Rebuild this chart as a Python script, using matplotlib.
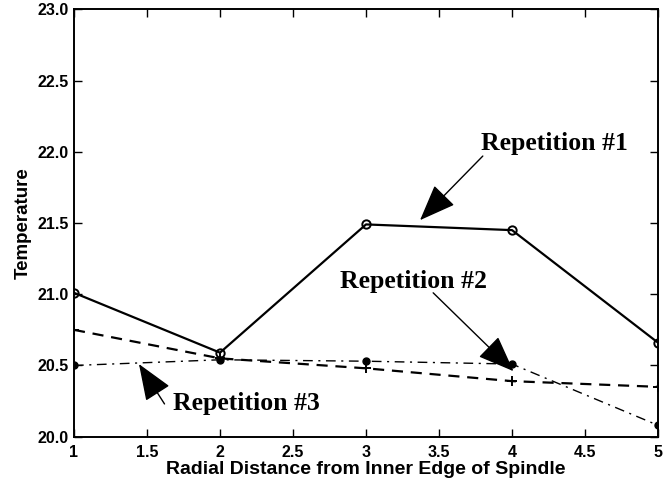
import matplotlib
matplotlib.use("Agg")
import matplotlib.pyplot as plt

# --- data ---
distance = [1, 2, 3, 4, 5]
rep1 = [21.01, 20.59, 21.49, 21.45, 20.66]
rep2 = [20.75, 20.55, 20.48, 20.39, 20.35]
rep3 = [20.50, 20.54, 20.53, 20.51, 20.08]

x_ticks = [1, 1.5, 2, 2.5, 3, 3.5, 4, 4.5, 5]
x_tick_labels = ["1", "1.5", "2", "2.5", "3", "3.5", "4", "4.5", "5"]
y_ticks = [20.0, 20.5, 21.0, 21.5, 22.0, 22.5, 23.0]
y_tick_labels = ["20.0", "20.5", "21.0", "21.5", "22.0", "22.5", "23.0"]

sans = ["Liberation Sans", "DejaVu Sans"]
serif = ["Liberation Serif", "DejaVu Serif"]

fig = plt.figure(figsize=(6.69, 4.84), dpi=100)
ax = fig.add_axes([0.1106, 0.0977, 0.8730, 0.8831])

ax.plot(distance, rep1, "k-", lw=1.6, marker="o", ms=6, mfc="none", mew=1.4)
ax.plot(distance, rep2, "k--", lw=1.6, marker="+", ms=7, mew=1.4, dashes=(5, 3.5))
ax.plot(distance, rep3, "k-.", lw=1.0, marker="o", ms=5, dashes=(7, 4, 1.5, 4))

ax.set_xlim(1, 5)
ax.set_ylim(20, 23)
ax.set_xticks(x_ticks)
ax.set_xticklabels(x_tick_labels)
ax.set_yticks(y_ticks)
ax.set_yticklabels(y_tick_labels)
ax.tick_params(direction="in", top=True, right=True, length=6, width=1)
ax.tick_params(axis="x", pad=6)
ax.tick_params(axis="y", pad=4)
for lab in ax.get_xticklabels() + ax.get_yticklabels():
    lab.set_family(sans)
    lab.set_fontweight("bold")
    lab.set_fontsize(11.5)
for sp in ax.spines.values():
    sp.set_linewidth(1.4)

ax.set_xlabel("Radial Distance from Inner Edge of Spindle", family=sans,
              fontweight="bold", fontsize=14, labelpad=1)
ax.set_ylabel("Temperature", family=sans, fontweight="bold", fontsize=13.5, labelpad=4)

arrow = dict(arrowstyle="-|>,head_length=1.15,head_width=0.45", color="k",
             lw=1.0, mutation_scale=20, shrinkA=0, shrinkB=0)
text_kw = dict(family=serif, fontweight="bold", fontsize=18.5, va="center")

ax.annotate("", xy=(3.37, 21.52), xytext=(3.80, 21.97), arrowprops=arrow)
ax.text(3.79, 22.06, "Repetition #1", ha="left", **text_kw)

ax.annotate("", xy=(4.01, 20.46), xytext=(3.46, 21.01), arrowprops=arrow)
ax.text(2.82, 21.09, "Repetition #2", ha="left", **text_kw)

ax.annotate("", xy=(1.445, 20.51), xytext=(1.62, 20.23), arrowprops=arrow)
ax.text(1.68, 20.23, "Repetition #3", ha="left", **text_kw)

fig.savefig("out.png", dpi=100)
